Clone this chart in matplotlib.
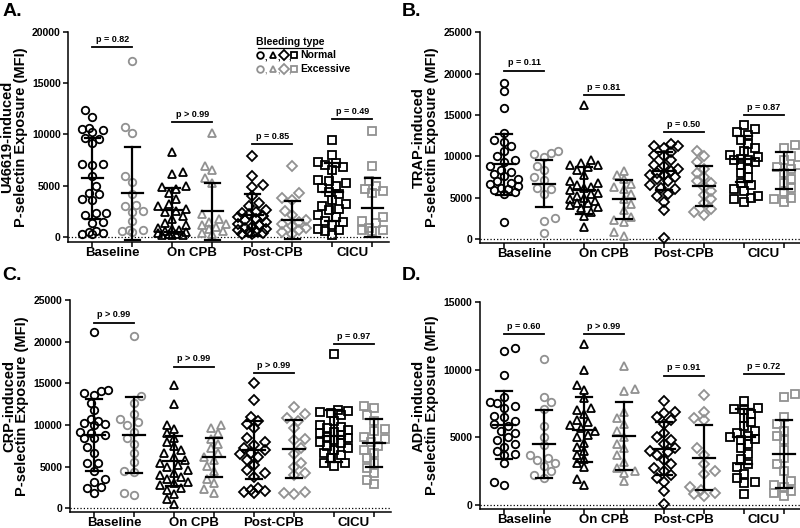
import matplotlib
matplotlib.use("Agg")
import matplotlib.pyplot as plt
import numpy as np

plt.rcParams['font.family'] = ['Liberation Sans', 'DejaVu Sans']
plt.rcParams['font.weight'] = 'bold'

GROUPS = ["Baseline", "On CPB", "Post-CPB", "CICU"]
MARKERS = ['o', '^', 'D', 's']
BLACK = '#000000'
GREY = '#919191'

# ---- panel A: U46619 ----
a_normal = [
    [12400, 11700, 10600, 10500, 10400, 10200, 9700, 9600, 9200, 7100, 7000, 7100, 5900, 5000,
     4300, 4200, 3700, 3600, 2300, 2300, 2100, 1500, 1400, 600, 500, 400, 300, 300],
    [8300, 6300, 6100, 5000, 4900, 4700, 4300, 3700, 3200, 3000, 2700, 2500, 2400, 2000, 1800,
     1400, 1200, 900, 800, 700, 600, 500, 400, 300, 300, 200, 200, 200],
    [7900, 5900, 5100, 4900, 4000, 3300, 3000, 2600, 2400, 2300, 2200, 2000, 1900, 1800, 1700,
     1500, 1300, 1200, 1000, 900, 800, 700, 600, 500, 400, 300, 300],
    [9500, 8000, 7300, 7200, 7000, 6800, 6500, 5600, 5500, 5300, 5000, 4800, 4400, 4200, 3600,
     3200, 3000, 2700, 2600, 2100, 1900, 1600, 1500, 1200, 800, 700, 600, 200],
]
a_excess = [
    [17200, 10700, 10100, 5900, 5400, 4200, 3100, 3000, 2500, 2400, 1600, 700, 650, 600, 500],
    [10100, 6900, 6500, 5800, 5300, 2200, 1800, 1500, 1300, 1200, 1000, 800, 600, 400, 300],
    [6900, 4300, 3800, 3600, 2500, 2100, 1700, 1500, 1300, 1100, 900, 700, 500, 300],
    [10300, 6900, 5500, 5000, 4700, 4500, 4300, 1900, 1600, 1400, 900, 700, 700, 600],
]
a_mean = [5750, 4250, 2600, 2500, 2100, 1620, 4380, 2860]
a_sd = [3950, 4550, 2150, 2800, 2050, 1850, 2800, 2850]
a_pvals = ["p = 0.82", "p > 0.99", "p = 0.85", "p = 0.49"]
a_bar_y = [18500, 11200, 9050, 11500]

# ---- panel B: TRAP ----
b_normal = [
    [18900, 17900, 15800, 12800, 12000, 11700, 11200, 10700, 10000, 9600, 9300, 8800, 8400, 8100,
     7900, 7600, 7300, 7000, 6800, 6600, 6400, 6200, 6000, 5900, 5700, 5500, 2000],
    [16200, 9500, 9200, 9000, 8900, 8700, 8300, 7700, 7000, 6800, 6500, 6300, 6200, 5900, 5600,
     5400, 5200, 5000, 4800, 4600, 4400, 4300, 4100, 3900, 3700, 3300, 2800, 1500],
    [11500, 11300, 11200, 11000, 10500, 10200, 10000, 9500, 9000, 8800, 8500, 8200, 8000, 7800,
     7700, 7500, 7200, 7000, 6500, 6200, 6000, 5500, 5200, 4500, 3500, 100],
    [13800, 13300, 13000, 12600, 12000, 11500, 11000, 10600, 10200, 9900, 9700, 9600, 9500, 9300,
     9000, 8500, 8000, 7500, 6800, 6500, 6000, 5800, 5200, 5000, 4800, 4500],
]
b_excess = [
    [10600, 10400, 10300, 9900, 8800, 8300, 7500, 7100, 6200, 6000, 5400, 2600, 2200, 700],
    [8200, 7700, 7200, 6600, 6300, 6000, 5500, 4900, 4200, 3500, 2700, 2300, 2100, 800, 400],
    [10700, 10000, 9300, 8500, 8000, 7500, 7000, 6800, 6300, 5800, 5300, 4800, 4300, 3600, 3300, 2900],
    [11400, 11000, 10000, 9500, 9000, 8700, 8500, 8000, 7300, 6800, 6200, 5700, 5000, 4800, 4500],
]
b_mean = [9030, 6700, 5900, 4780, 8200, 6450, 9700, 8300]
b_sd = [3700, 2850, 2850, 2350, 2300, 2400, 2800, 2250]
b_pvals = ["p = 0.11", "p = 0.81", "p = 0.50", "p = 0.87"]
b_bar_y = [20350, 17400, 12900, 15000]

# ---- panel C: CRP ----
c_normal = [
    [21200, 14200, 14100, 13800, 13600, 12700, 11800, 10700, 10500, 10200, 10100, 10000, 9200,
     9000, 8800, 8400, 8400, 7400, 6600, 5500, 5400, 4500, 3500, 3200, 2600, 2400, 1900],
    [14800, 12500, 10000, 9500, 9000, 8500, 8000, 7500, 7000, 6600, 6200, 5800, 5500, 5200, 5000,
     4600, 4200, 4000, 3800, 3500, 3200, 3000, 2800, 2500, 2200, 1700, 1100, 500],
    [15100, 13000, 11000, 10500, 10100, 9600, 8400, 8000, 7600, 7300, 7000, 6700, 6500, 6200,
     5800, 5200, 4600, 4200, 3800, 2500, 2200, 2100, 2000, 1900],
    [18500, 11800, 11700, 11600, 11500, 11200, 10500, 10000, 9800, 9600, 9400, 9200, 9000, 8800,
     8600, 8400, 8200, 8000, 7800, 7500, 7200, 7000, 6700, 6400, 6000, 5500, 5400, 5100],
]
c_excess = [
    [20700, 13500, 12700, 11300, 10700, 10400, 10000, 9200, 8400, 7700, 6600, 5600, 4500, 4400, 1900, 1600],
    [10000, 9700, 9000, 8300, 7700, 7200, 6700, 6200, 5800, 5100, 4500, 3500, 3000, 2300, 1900],
    [12200, 11300, 10900, 10500, 9600, 8300, 8200, 7300, 6500, 5500, 5000, 4300, 4000, 2000, 1800, 1700],
    [12300, 12100, 11200, 10500, 9500, 9300, 8600, 8300, 8000, 7500, 7000, 6600, 6000, 5400, 4800,
     4200, 3400, 2900],
]
c_mean = [8800, 8850, 5700, 6150, 7020, 7120, 8700, 7850]
c_sd = [4360, 4550, 3000, 2350, 3480, 3450, 3100, 2850]
c_pvals = ["p > 0.99", "p > 0.99", "p > 0.99", "p = 0.97"]
c_bar_y = [22300, 17000, 16200, 19700]

# ---- panel D: ADP ----
d_normal = [
    [11600, 11400, 9600, 8000, 7600, 7500, 7300, 7200, 6600, 6500, 6200, 6000, 5800, 5500, 5300,
     5000, 4800, 4500, 4300, 4000, 3800, 3700, 3100, 1700, 1500],
    [11900, 10000, 8900, 8500, 7900, 7200, 7000, 6700, 6300, 6100, 5900, 5700, 5500, 5200, 5000,
     4600, 4300, 4000, 3700, 3400, 3100, 2800, 1900, 1500],
    [7700, 6900, 6800, 6500, 6300, 6000, 5300, 5000, 4800, 4500, 4200, 4000, 3900, 3700, 3300,
     3000, 2700, 2500, 2200, 2000, 1700, 1000, 100],
    [7700, 7200, 7100, 7000, 6700, 6400, 6100, 5800, 5500, 5300, 5100, 5000, 4900, 4800, 4500,
     4200, 3800, 3400, 3000, 2800, 2300, 2000, 1700, 1600, 800],
]
d_excess = [
    [10800, 8000, 7600, 7100, 5800, 5000, 4400, 3700, 3500, 3300, 3100, 2900, 2500, 2200, 2000],
    [10300, 8600, 8400, 6900, 6400, 6000, 5500, 5000, 4500, 4200, 3700, 3200, 2700, 2500, 2400, 1800],
    [8100, 6900, 6400, 6300, 4200, 3700, 3000, 2500, 2300, 1300, 1100, 900, 800, 700],
    [8200, 8000, 6500, 6000, 5500, 5100, 4800, 4100, 3500, 3000, 2500, 1800, 1500, 1300, 1000, 900, 700],
]
d_mean = [5920, 4490, 5550, 5110, 4170, 3500, 5060, 3770]
d_sd = [2500, 2530, 2400, 2500, 1980, 2380, 2030, 2480]
d_pvals = ["p = 0.60", "p > 0.99", "p = 0.91", "p = 0.72"]
d_bar_y = [12630, 12630, 9550, 9670]


def swarm_offsets(vals, ax, diam=8.0, step=3.5, max_px=14.0):
    # beeswarm in pixel space, spread capped; dense spots are allowed to overlap
    p0 = ax.transData.transform((0, 0))
    p1 = ax.transData.transform((1, 1))
    sx, sy = p1[0] - p0[0], p1[1] - p0[1]
    vals = np.asarray(vals, dtype=float)
    cands = [0.0]
    k = 1
    while k * step <= max_px:
        cands += [k * step, -k * step]
        k += 1
    placed = []
    offs = np.zeros(len(vals))
    for n, i in enumerate(np.argsort(vals)):
        y = vals[i] * sy
        best, best_d = 0.0, -1.0
        for x in (cands if n % 2 == 0 else [-c for c in cands]):
            dmin = min([np.hypot(x - px, y - py) for px, py in placed] + [1e9])
            if dmin >= diam:
                best = x
                break
            if dmin > best_d:
                best, best_d = x, dmin
        placed.append((best, y))
        offs[i] = best / sx
    return offs


def draw_panel(ax, normal, excess, means, sds, pvals, bar_y, ylabel, ymax, ybot):
    ax.set_xlim(-0.6, 7.42)
    ax.set_ylim(ybot, ymax)
    ax.axhline(0, ls=':', color='black', lw=0.9, zorder=1)
    for g in range(4):
        for j, (vals, col) in enumerate([(normal[g], BLACK), (excess[g], GREY)]):
            pos = 2 * g + j
            offs = swarm_offsets(vals, ax)
            ms = 5.4 if MARKERS[g] != 'D' else 5.0
            ax.plot(pos + offs, vals, ls='none', marker=MARKERS[g], ms=ms, mfc='none',
                    mec=col, mew=1.3, zorder=3, clip_on=False)
            m, s = means[pos], sds[pos]
            ax.plot([pos - 0.27, pos + 0.27], [m, m], color='black', lw=1.6, zorder=4)
            ax.plot([pos, pos], [m - s, m + s], color='black', lw=1.6, zorder=4)
            for yy in (m - s, m + s):
                ax.plot([pos - 0.19, pos + 0.19], [yy, yy], color='black', lw=1.6, zorder=4)
        ax.plot([2 * g, 2 * g + 1], [bar_y[g], bar_y[g]], color='black', lw=1.3)
        ax.annotate(pvals[g], (2 * g + 0.5, bar_y[g]), xytext=(0, 2.5),
                    textcoords='offset points', ha='center', va='bottom', fontsize=6.5,
                    fontweight='bold')
    ax.spines['top'].set_visible(False)
    ax.spines['right'].set_visible(False)
    ax.spines['left'].set_linewidth(1.1)
    ax.spines['bottom'].set_linewidth(1.1)
    ax.set_xticks(range(8))
    ax.set_xticklabels([''] * 8)
    ax.set_xticks([0.5, 2.5, 4.5, 6.5], minor=True)
    ax.set_xticklabels(GROUPS, minor=True, fontsize=9.5, fontweight='bold')
    ax.tick_params(axis='x', which='minor', length=0, pad=3.5)
    ax.tick_params(axis='x', which='major', length=3.5, width=1.1)
    ax.set_yticks(np.arange(0, ymax + 1, 5000))
    ax.tick_params(axis='y', length=3.5, width=1.1, labelsize=7.5, pad=2)
    for lab in ax.get_yticklabels():
        lab.set_fontweight('bold')
    ax.set_ylabel(ylabel, fontsize=10.5, fontweight='bold', labelpad=3, linespacing=0.95)


fig = plt.figure(figsize=(8, 5.28), dpi=100)
axA = fig.add_axes([0.0855, 0.5417, 0.401, 0.3977])
axB = fig.add_axes([0.600, 0.5398, 0.401, 0.3990])
axC = fig.add_axes([0.0875, 0.0303, 0.401, 0.4015])
axD = fig.add_axes([0.600, 0.0354, 0.401, 0.3926])

draw_panel(axA, a_normal, a_excess, a_mean, a_sd, a_pvals, a_bar_y,
           "U46619-induced\nP-selectin Exposure (MFI)", 20000, -490)
draw_panel(axB, b_normal, b_excess, b_mean, b_sd, b_pvals, b_bar_y,
           "TRAP-induced\nP-selectin Exposure (MFI)", 25000, -480)
draw_panel(axC, c_normal, c_excess, c_mean, c_sd, c_pvals, c_bar_y,
           "CRP-induced\nP-selectin Exposure (MFI)", 25000, -440)
draw_panel(axD, d_normal, d_excess, d_mean, d_sd, d_pvals, d_bar_y,
           "ADP-induced\nP-selectin Exposure (MFI)", 15000, -320)

# legend in panel A
axA.text(0.69, 0.950, "Bleeding type", transform=axA.transAxes, ha='center', va='center',
         fontsize=7.5, fontweight='bold')
axA.plot([0.59, 0.79], [0.926, 0.926], transform=axA.transAxes, color='black', lw=0.9,
         clip_on=False)
sym_x = [0.597, 0.637, 0.671, 0.703]
for row_y, col, lab in [(0.89, BLACK, "Normal"), (0.824, GREY, "Excessive")]:
    for k, mk in enumerate(MARKERS):
        axA.plot([sym_x[k]], [row_y], transform=axA.transAxes, marker=mk,
                 ms=4.8 if mk != 'D' else 4.6, mfc='none', mec=col, mew=1.3, clip_on=False)
        if k < 3:
            axA.text(sym_x[k] + 0.019, row_y - 0.012, ",", transform=axA.transAxes, ha='center',
                     va='center', fontsize=6.5, color=col, fontweight='bold')
    axA.text(0.722, row_y, lab, transform=axA.transAxes, ha='left', va='center',
             fontsize=7.5, fontweight='bold')

for lab, x, y in [("A.", 0.003, 0.995), ("B.", 0.502, 0.995), ("C.", 0.003, 0.495), ("D.", 0.502, 0.495)]:
    fig.text(x, y, lab, ha='left', va='top', fontsize=14, fontweight='bold')

fig.savefig("out.png", dpi=100)
